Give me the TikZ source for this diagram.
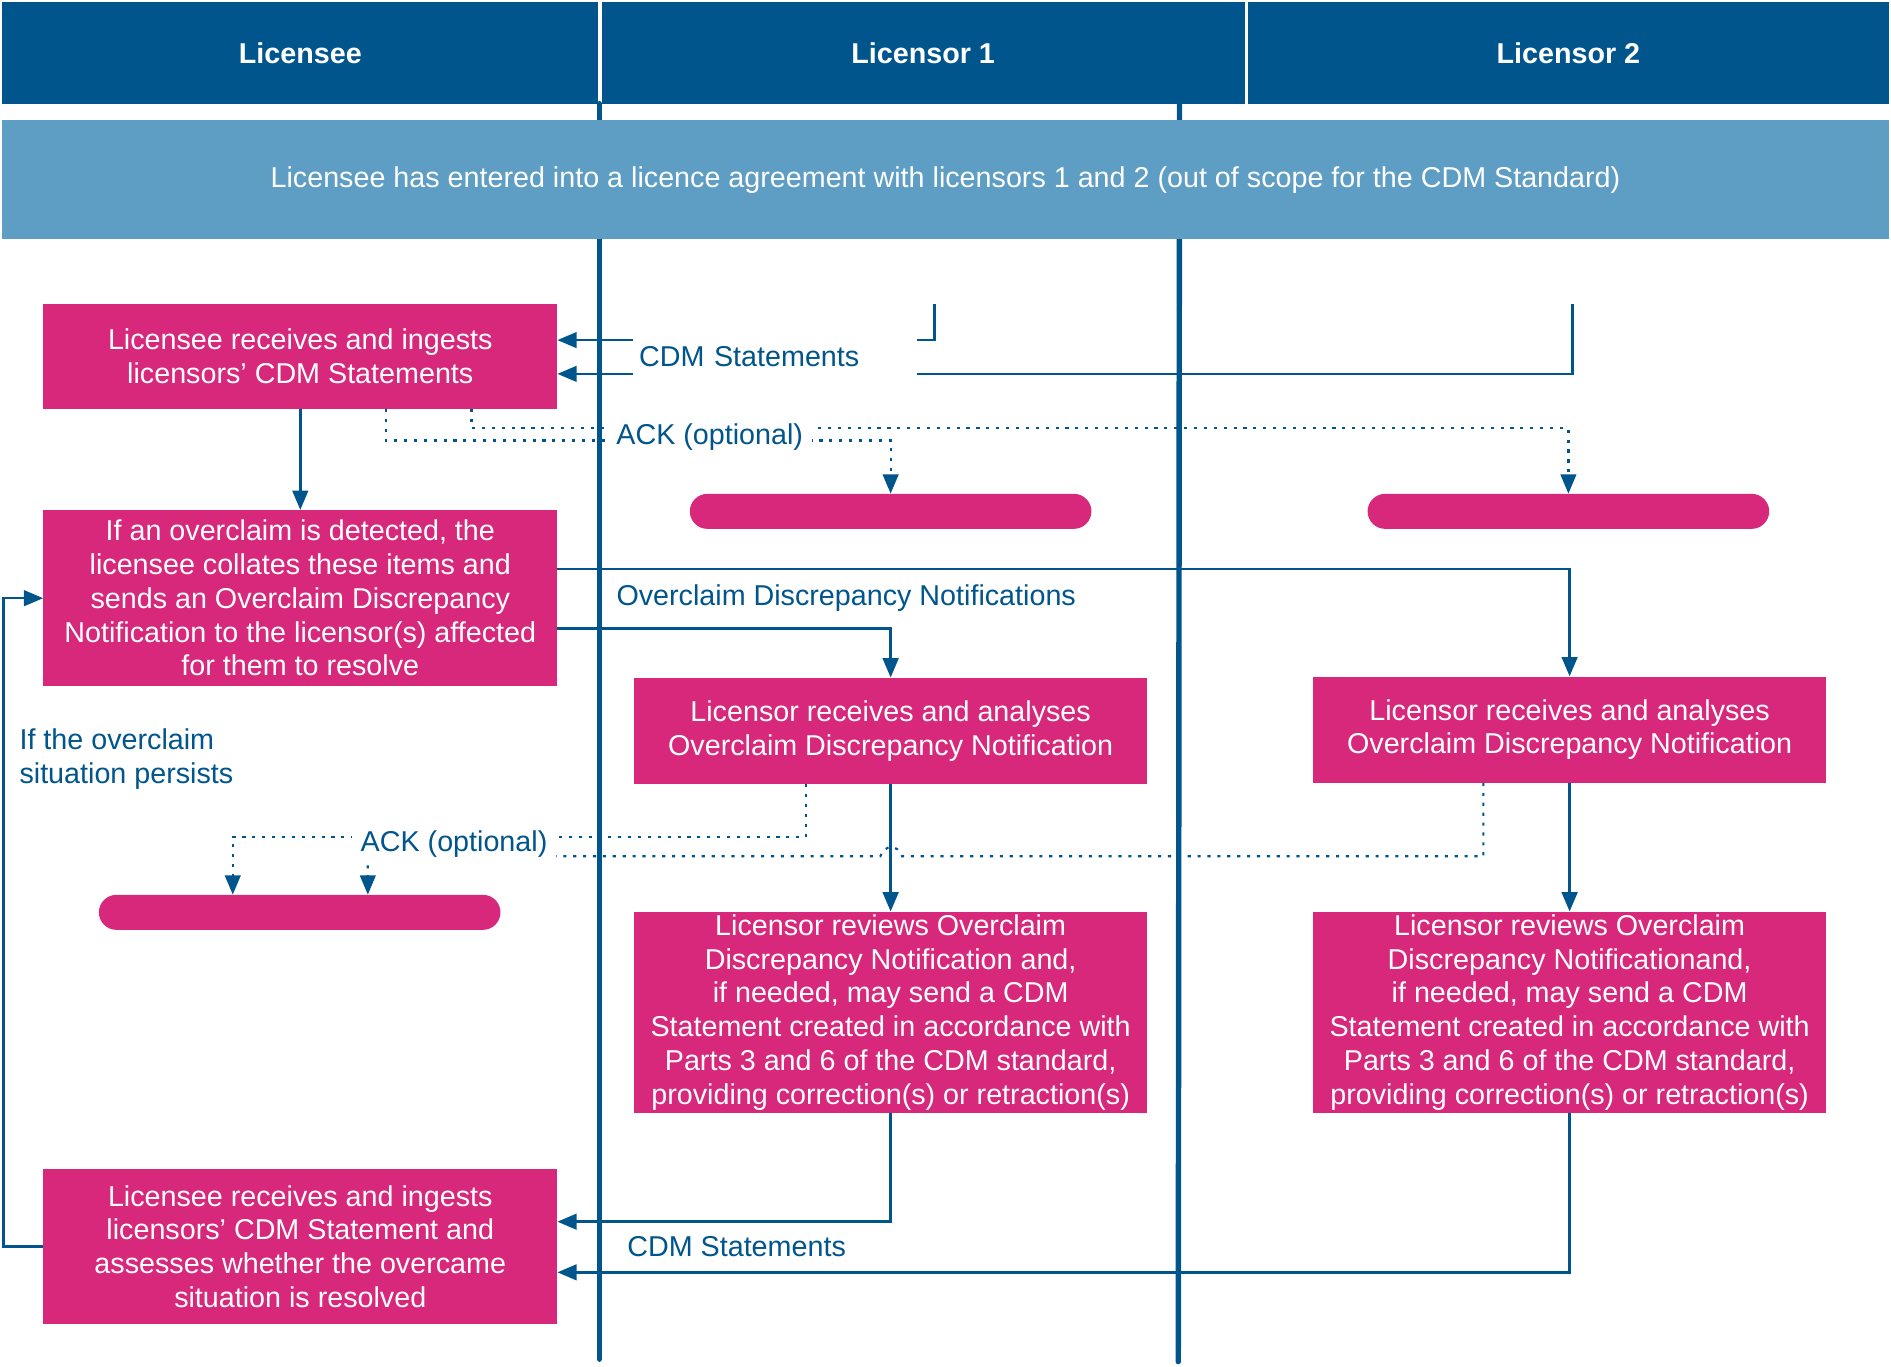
\documentclass[tikz,border=0pt]{standalone}
\usepackage{fontspec}
\setmainfont{Liberation Sans}
\usetikzlibrary{arrows.meta,calc}
\definecolor{dblue}{RGB}{0,85,140}
\definecolor{lblue}{RGB}{94,157,196}
\definecolor{mag}{RGB}{215,40,123}
\newcommand\myfs{\fontsize{23.8}{28}\selectfont}
\begin{document}
\begin{tikzpicture}[x=1pt,y=-1pt,
  hdr/.style={fill=dblue,text=white,font=\myfs\bfseries,inner sep=0pt,minimum height=84pt},
  band/.style={fill=lblue,text=white,font=\myfs,inner sep=0pt,minimum width=1564pt,minimum height=99pt},
  box/.style={fill=mag,text=white,font=\myfs,align=center,inner sep=0pt},
  pill/.style={fill=mag,rounded corners=14.5pt,inner sep=0pt,minimum width=333pt,minimum height=29pt},
  lifeline/.style={draw=dblue,line width=4.5pt,line cap=round},
  conn/.style={draw=dblue,line width=2pt,-{Triangle[length=16pt,width=13pt]}},
  ack/.style={draw=dblue,line width=1.8pt,dash pattern=on 2.6pt off 5.6pt,-{Triangle[length=16pt,width=13pt]}},
  lab/.style={text=dblue,font=\myfs,inner sep=5pt},
  wlab/.style={lab,fill=white}
]
\useasboundingbox (0,0) rectangle (1568,1133);
% lifelines
\coordinate (l1top) at (497,86);
\coordinate (l1bot) at (497,1127);
\coordinate (l2top) at (978,86);
\coordinate (l2bot) at (977,1129);
\draw[lifeline] (l1top) -- (l1bot);
\draw[lifeline] (l2top) -- (l2bot);
% header
\node[hdr,minimum width=494pt] (h1) at (249,44) {Licensee};
\node[hdr,minimum width=533pt] (h2) at (765.5,44) {Licensor 1};
\node[hdr,minimum width=531pt] (h3) at (1300.5,44) {Licensor 2};
\node[band] (bd) at (784,149) {Licensee has entered into a licence agreement with licensors 1 and 2 (out of scope for the CDM Standard)};
% boxes
\node[box,minimum width=426pt,minimum height=87pt] (A) at (249,295.5) {Licensee receives and ingests\\licensors’ CDM Statements};
\node[box,minimum width=426pt,minimum height=146pt] (B) at (249,496) {If an overclaim is detected, the\\licensee collates these items and\\sends an Overclaim Discrepancy\\Notification to the licensor(s) affected\\for them to resolve};
\node[pill] (P1) at (738.5,424) {};
\node[pill] (P2) at (1300.5,424) {};
\node[box,minimum width=425pt,minimum height=88pt] (C1) at (738.5,606) {Licensor receives and analyses\\Overclaim Discrepancy Notification};
\node[box,minimum width=425pt,minimum height=88pt] (C2) at (1301.5,605) {Licensor receives and analyses\\Overclaim Discrepancy Notification};
\node[pill] (P3) at (248.5,756.5) {};
\node[box,minimum width=425pt,minimum height=167pt] (D1) at (738.5,839.5) {Licensor reviews Overclaim\\Discrepancy Notification and,\\if needed, may send a CDM\\Statement created in accordance with\\Parts 3 and 6 of the CDM standard,\\providing correction(s) or retraction(s)};
\node[box,minimum width=425pt,minimum height=167pt] (D2) at (1301.5,839.5) {Licensor reviews Overclaim\\Discrepancy Notificationand,\\if needed, may send a CDM\\Statement created in accordance with\\Parts 3 and 6 of the CDM standard,\\providing correction(s) or retraction(s)};
\node[box,minimum width=426pt,minimum height=129pt] (E) at (249,1033.5) {Licensee receives and ingests\\licensors’ CDM Statement and\\assesses whether the overcame\\situation is resolved};
% connectors
\coordinate (s1) at (775,252);
\coordinate (s2) at (1304,252);
\draw[conn] (s1) |- ($(A.east)+(0,-13.5)$);
\draw[conn] (s2) |- ($(A.east)+(0,14.5)$);
\draw[conn] (A.south) -- (B.north);
\draw[ack] ($(A.south)+(71,0)$) -- ++(0,26) -| (P1.north);
\draw[ack] ($(A.south)+(142,0)$) -- ++(0,16) -| (P2.north);
\draw[conn] ($(B.east)+(0,25)$) -| (C1.north);
\draw[conn] ($(B.east)+(0,-24)$) -| (C2.north);
\draw[conn] (C1.south) -- (D1.north);
\draw[conn] (C2.south) -- (D2.north);
\draw[ack] ($(C1.south)+(-70.5,0)$) -- ++(0,44) -| ($(P3.north)+(-55.5,0)$);
\coordinate (hopR) at (748,710);
\coordinate (hopL) at (730,710);
\draw[ack] ($(C2.south)+(-71.5,0)$) |- (hopR) .. controls (745,700) and (733,700) .. (hopL) -| ($(P3.north)+(56.5,0)$);
\draw[conn] (D1.south) |- ($(E.east)+(0,-20.5)$);
\draw[conn] (D2.south) |- ($(E.east)+(0,21.5)$);
\draw[conn] (E.west) -- ++(-33,0) |- (B.west);
% labels
\node[wlab,text width=225pt,align=left,inner ysep=9pt] (cdm1) at (642.5,295.5) {CDM Statements};
\node[wlab,inner xsep=7pt,inner ysep=3pt] (ack1) at (588.5,362.5) {ACK (optional)};
\node[lab,anchor=west] (odn) at (506,495.5) {Overclaim Discrepancy Notifications};
\node[wlab,inner xsep=7pt,inner ysep=3pt] (ack2) at (376.5,699.5) {ACK (optional)};
\node[lab,anchor=west] (cdm2) at (515,1033.5) {CDM Statements};
\node[lab,anchor=west,align=left] (pers) at (11,629.5) {If the overclaim\\situation persists};
\end{tikzpicture}
\end{document}
